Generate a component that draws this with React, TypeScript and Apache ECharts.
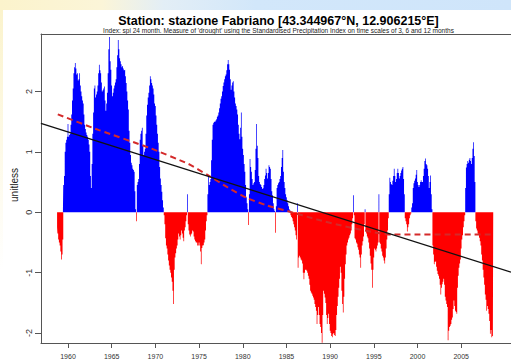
import React, { useEffect, useRef } from "react";
import * as echarts from "echarts";

// Monthly SPI-24 record, starting October 1958 (fractional year of first month)
const FIRST_MONTH = 1958.75;

const spi1958to59 = [-0.25, -0.35, -0.45, -0.5, -0.55, -0.65, -0.78, -0.7, -0.45, 0.45, 0.6, 1.0, 1.15, 1.2, 1.25];

const spi1960s = [
  1.46, 1.25, 1.28, 1.3, 1.45, 1.62, 1.85, 2.05, 2.3, 2.4, 2.47, 2.38,
  2.28, 2.3, 2.18, 2.2, 2.3, 2.1, 2.0, 1.92, 1.85, 1.8, 1.62, 1.45,
  1.38, 1.32, 1.28, 1.25, 1.2, 1.12, 1.0, 0.6, 0.4, 0.8, 1.3, 1.65,
  2.05, 2.1, 1.9, 1.95, 2.0, 2.1, 2.3, 2.44, 2.35, 2.3, 2.15, 2.0,
  2.02, 2.05, 2.08, 1.85, 1.68, 1.8, 1.98, 2.3, 2.7, 2.9, 2.5, 2.36,
  2.1, 1.92, 1.98, 2.05, 2.1, 2.15, 2.2, 2.4, 2.6, 2.85, 2.7, 2.55,
  2.5, 2.45, 2.4, 2.42, 2.38, 2.35, 2.36, 2.25, 2.14, 2.0, 1.85, 1.7,
  1.35, 1.15, 0.95, 0.82, 0.78, 0.72, 0.7, 0.67, 0.35, 0.05, -0.15, 0.45,
  0.5, 0.55, 0.8, 1.2, 1.3, 1.35, 1.4, 1.1, 0.95, 1.0, 1.05, 1.3,
  1.6, 1.78, 1.9, 1.98, 2.1, 2.25, 2.2, 2.14, 2.1, 2.05, 1.95, 1.8,
];

const spi1970s = [
  1.76, 1.6, 1.45, 1.3, 1.15, 1.0, 0.75, 0.56, 0.45, 0.34, 0.2, 0.08,
  -0.05, -0.2, -0.43, -0.55, -0.6, -0.7, -0.8, -0.88, -0.95, -1.0, -1.08, -1.15,
  -1.3, -1.52, -0.95, -0.75, -0.68, -0.6, -0.55, -0.45, -0.35, -0.4, -0.45, -0.38,
  -0.3, -0.35, -0.42, -0.48, -0.3, -0.25, -0.15, -0.05, 0.3, -0.2, -0.3, -0.37,
  -0.4, -0.37, -0.35, -0.3, -0.32, -0.4, -0.45, -0.48, -0.5, -0.5, -0.55, -0.55,
  -0.5, -0.55, -0.65, -0.86, -0.59, -0.55, -0.54, -0.5, -0.45, -0.3, -0.15, -0.05,
  0.3, 0.61, 0.45, 0.5, 0.55, 0.86, 1.2, 1.45, 1.48, 1.5, 1.5, 1.52,
  1.54, 1.58, 1.6, 1.65, 1.72, 1.8, 1.88, 1.92, 2.0, 2.09, 2.15, 2.2,
  2.25, 2.28, 2.35, 2.45, 2.52, 2.45, 2.36, 2.2, 2.03, 2.1, 2.15, 2.17,
  2.0, 1.9, 1.8, 1.76, 1.7, 1.62, 1.45, 1.3, 1.21, 1.4, 1.65, 1.25,
];

const spi1980s = [
  1.05, 0.95, 0.8, 0.67, 0.45, 0.25, 0.15, 0.05, -0.21, 0.3, 0.88, 0.75,
  0.67, 0.55, 0.45, 0.48, 0.5, 0.7, 1.05, 1.46, 1.1, 0.9, 0.6, 0.5,
  0.47, 0.45, 0.42, 0.39, 0.4, 0.45, 0.55, 0.61, 0.72, 0.65, 0.56, 0.65,
  0.78, 0.75, 0.72, 0.55, 0.35, 0.28, 0.15, 0.05, 0.02, -0.34, 0.1, 0.4,
  0.45, 0.48, 0.5, 0.55, 0.6, 0.75, 0.9, 1.03, 0.67, 0.5, 0.4, 0.3,
  0.25, 0.2, 0.15, 0.1, 0.05, 0.03, -0.05, -0.08, -0.1, -0.15, -0.2, -0.25,
  -0.3, -0.38, -0.45, 0.15, -0.92, -0.75, -0.72, -0.75, -0.78, -0.8, -0.85, -1.0,
  -1.11, -1.0, -0.95, -0.95, -0.97, -1.0, -1.05, -1.1, -1.2, -1.3, -1.33, -1.35,
  -1.38, -1.41, -1.45, -1.52, -1.57, -1.63, -1.85, -1.7, -1.57, -1.7, -1.85, -1.9,
  -2.0, -2.16, -1.7, -1.3, -1.35, -1.41, -1.5, -1.7, -1.85, -1.75, -1.68, -1.85,
];

const spi1990s = [
  -1.96, -2.0, -2.05, -2.07, -2.02, -2.0, -2.03, -2.05, -1.95, -1.7, -1.55, -1.4,
  -1.25, -1.1, -0.9, -1.0, -1.3, -1.52, -1.66, -1.4, -1.1, -0.86, -0.7, -0.55,
  -0.5, -0.45, -0.42, -0.38, -0.35, -0.3, -0.2, -0.1, 0.28, -0.05, -0.43, -0.45,
  -0.5, -0.52, -0.58, -0.62, -0.7, -0.75, -0.92, -0.7, -0.55, -0.48, -0.4, -0.2,
  0.05, -0.3, -0.35, -0.4, -0.43, -0.5, -0.6, -0.72, -0.85, -0.95, -1.25, -0.95,
  -0.75, -0.6, -0.62, -0.65, -0.6, -0.55, -0.5, 0.3, -0.5, -0.52, -0.6, -0.65,
  -0.72, -0.75, -0.8, -0.85, -0.75, -0.6, -0.45, -0.3, -0.1, 0.3, 0.57, 0.5,
  0.47, 0.45, 0.52, 0.6, 0.72, 0.6, 0.5, 0.55, 0.65, 0.72, 0.65, 0.56,
  0.6, 0.65, 0.69, 0.72, 0.75, 0.55, 0.3, -0.1, -0.15, -0.2, -0.32, -0.25,
  -0.2, -0.1, -0.05, -0.02, 0.08, 0.15, 0.4, 0.48, 0.52, 0.56, 0.62, 0.7,
];

const spi2000s = [
  0.5, 0.45, 0.42, 0.45, 0.5, 0.53, 0.5, 0.5, 0.6, 0.72, 0.85, 0.89,
  0.8, 0.78, 0.72, 0.6, 0.4, 0.5, 0.61, 0.3, 0.05, -0.55, -0.7, -0.86,
  -0.82, -0.81, -0.9, -0.97, -1.02, -1.05, -1.1, -1.2, -1.36, -1.25, -1.19, -1.15,
  -1.1, -1.2, -1.4, -1.46, -1.52, -1.57, -2.12, -1.96, -1.9, -1.88, -1.85, -1.78,
  -1.74, -1.6, -1.46, -1.55, -1.63, -1.65, -1.68, -1.25, -1.05, -0.92, -0.85, -0.78,
  -0.6, -0.45, -0.38, -0.25, -0.15, -0.05, 0.4, 0.74, 0.8, 0.85, 0.82, 0.87,
  0.9, 0.85, 0.8, 0.9, 1.05, 1.16, 0.93, 0.5, -0.15, -0.27, -0.3, -0.35,
  -0.37, -0.42, -0.48, -0.55, -0.7, -0.8, -0.95, -1.08, -1.2, -1.36, -1.45, -1.63,
  -1.55, -1.6, -1.68, -1.8, -2.01, -1.95, -2.07, -2.05, -2.01,
];

// Smoothed curve (red dashed) and linear trend (black)
const smoothYears = [1958.83, 1963.55, 1969.25, 1973.78, 1976.05, 1978.31, 1980.58, 1982.84, 1985.11, 1988.51, 1991.9, 1995.3, 1997.0, 2008.8];
const smoothValues = [1.62, 1.36, 1.07, 0.8, 0.61, 0.41, 0.23, 0.11, 0.02, -0.12, -0.24, -0.34, -0.37, -0.37];
const trendYears = [1956.9, 2010.7];
const trendValues = [1.47, -0.99];

const xTickYears = [1960, 1965, 1970, 1975, 1980, 1985, 1990, 1995, 2000, 2005];
const yTickValues = [-2, -1, 0, 1, 2];

const X_MIN = 1956.91;
const X_MAX = 2010.7;
const Y_MIN = -2.164;
const Y_MAX = 2.951;

const TITLE = "Station: stazione Fabriano [43.344967°N, 12.906215°E]";
const SUBTITLE =
  "Index: spi 24 month. Measure of 'drought' using the Standardised Precipitation Index on time scales of 3, 6 and 12 months";
const Y_NAME = "unitless";

const FONT = "'Liberation Sans', Arial, Helvetica, sans-serif";
const AXIS_COLOR = "#555";

export default function App() {
  const ref = useRef<HTMLDivElement>(null);

  useEffect(() => {
    if (!ref.current) return;
    const chart = echarts.init(ref.current, undefined, { renderer: "svg" });

    const spi = [...spi1958to59, ...spi1960s, ...spi1970s, ...spi1980s, ...spi1990s, ...spi2000s];
    const monthly = spi.map((v, i) => [FIRST_MONTH + i / 12, v]);
    const wet = monthly.map(([t, v]) => [t, Math.max(v, 0)]);
    const dry = monthly.map(([t, v]) => [t, Math.min(v, 0)]);

    const areaSeries = (data: number[][], color: string) => ({
      type: "line",
      data,
      step: "middle",
      symbol: "none",
      silent: true,
      lineStyle: { width: 0 },
      areaStyle: { color, opacity: 1, origin: 0 },
      z: 2,
    });

    const option: any = {
      animation: false,
      backgroundColor: "#ffffff",
      grid: { left: 41, right: -5, top: 34, bottom: 14, containLabel: false },
      xAxis: [
        {
          type: "value",
          position: "bottom",
          min: X_MIN,
          max: X_MAX,
          axisLine: { show: true, onZero: false, lineStyle: { color: AXIS_COLOR, width: 1 } },
          axisTick: { show: true, length: 5, customValues: xTickYears, lineStyle: { color: AXIS_COLOR } },
          axisLabel: {
            show: true,
            customValues: xTickYears,
            formatter: (v: number) => String(v),
            fontSize: 7,
            color: "#333",
            margin: 10,
            fontFamily: FONT,
          },
          splitLine: { show: false },
        },
        {
          type: "value",
          position: "top",
          min: X_MIN,
          max: X_MAX,
          axisLine: { show: true, onZero: false, lineStyle: { color: AXIS_COLOR, width: 1 } },
          axisTick: { show: false },
          axisLabel: { show: false },
          splitLine: { show: false },
        },
      ],
      yAxis: {
        type: "value",
        min: Y_MIN,
        max: Y_MAX,
        axisLine: { show: true, onZero: false, lineStyle: { color: AXIS_COLOR, width: 1 } },
        axisTick: { show: true, length: 6, customValues: yTickValues, lineStyle: { color: AXIS_COLOR } },
        axisLabel: {
          show: true,
          customValues: yTickValues,
          formatter: (v: number) => String(v),
          rotate: 90,
          fontSize: 9,
          color: "#333",
          margin: 8,
          fontFamily: FONT,
        },
        splitLine: { show: false },
      },
      series: [
        areaSeries(wet, "#0000ff"),
        areaSeries(dry, "#ff0000"),
        {
          type: "line",
          data: smoothYears.map((t, i) => [t, smoothValues[i]]),
          smooth: 0.2,
          symbol: "none",
          silent: true,
          lineStyle: { color: "#d42a2a", width: 2, type: [6, 4] },
          z: 3,
        },
        {
          type: "line",
          data: trendYears.map((t, i) => [t, trendValues[i]]),
          symbol: "none",
          silent: true,
          lineStyle: { color: "#111111", width: 1.3 },
          z: 4,
        },
      ],
      graphic: [
        {
          type: "rect",
          shape: { x: 0, y: 0, width: 511, height: 10 },
          silent: true,
          style: {
            fill: new echarts.graphic.LinearGradient(0, 0, 1, 0, [
              { offset: 0, color: "#fbf3cc" },
              { offset: 0.2, color: "#fbf5d8" },
              { offset: 0.32, color: "#e3eef6" },
              { offset: 0.5, color: "#d2e7fa" },
              { offset: 1, color: "#cfe5fa" },
            ]),
          },
        },
        {
          type: "rect",
          shape: { x: 0, y: 10, width: 3, height: 260 },
          silent: true,
          style: {
            fill: new echarts.graphic.LinearGradient(0, 0, 0, 1, [
              { offset: 0, color: "#fbf3cc" },
              { offset: 1, color: "#ffffff" },
            ]),
          },
        },
        {
          type: "text",
          x: 278.5,
          y: 20.5,
          silent: true,
          style: {
            text: TITLE,
            font: `bold 12.5px ${FONT}`,
            fill: "#000",
            textAlign: "center",
            textVerticalAlign: "middle",
          },
        },
        {
          type: "text",
          x: 278.5,
          y: 30.8,
          silent: true,
          style: {
            text: SUBTITLE,
            font: `6.5px ${FONT}`,
            fill: "#222",
            textAlign: "center",
            textVerticalAlign: "middle",
          },
        },
        {
          type: "text",
          x: 14,
          y: 185,
          rotation: Math.PI / 2,
          silent: true,
          style: {
            text: Y_NAME,
            font: `10px ${FONT}`,
            fill: "#222",
            textAlign: "center",
            textVerticalAlign: "middle",
          },
        },
      ],
    };

    chart.setOption(option);
    return () => chart.dispose();
  }, []);

  return <div ref={ref} style={{ position: "fixed", left: 0, top: 0, width: 511, height: 360 }} />;
}
